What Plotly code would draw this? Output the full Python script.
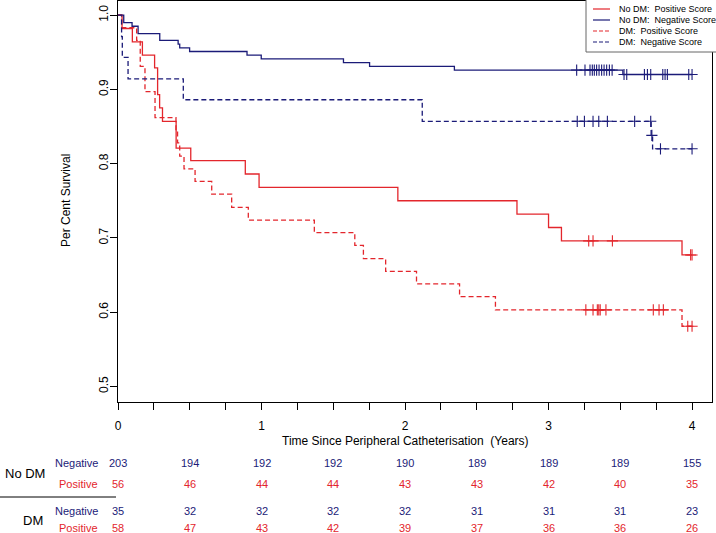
import numpy as np
import plotly.graph_objects as go

RED = "#e3262c"
BLUE = "#1b1b78"
FONT = "Liberation Sans, Arial, sans-serif"

# --- Kaplan-Meier steps (time in years, survival) ---
# No DM, negative score
nodm_neg_t = [0, 0.04, 0.098, 0.14, 0.291, 0.419, 0.43, 0.499, 0.899, 0.998, 1.571, 1.753, 2.344, 3.518]
nodm_neg_s = [1.0, 0.990, 0.985, 0.975, 0.966, 0.961, 0.956, 0.951, 0.946, 0.941, 0.936, 0.931, 0.926, 0.920]
nodm_neg_cens = [3.196, 3.254, 3.289, 3.305, 3.319, 3.335, 3.352, 3.370, 3.387, 3.405, 3.424, 3.443,
                 3.526, 3.545, 3.668, 3.689, 3.712, 3.796, 3.812, 3.828, 3.977, 4.0]

# No DM, positive score
nodm_pos_t = [0, 0.028, 0.10, 0.17, 0.255, 0.276, 0.29, 0.31, 0.405, 0.507, 0.887, 0.983, 1.95, 2.78, 3.00, 3.09, 3.93]
nodm_pos_s = [1.0, 0.982, 0.964, 0.946, 0.929, 0.893, 0.875, 0.857, 0.821, 0.804, 0.786, 0.768, 0.750, 0.732, 0.714, 0.696, 0.677]
nodm_pos_cens = [3.28, 3.31, 3.445, 3.99, 4.0]

# DM, negative score
dm_neg_t = [0, 0.025, 0.03, 0.07, 0.455, 2.12, 3.715, 3.725]
dm_neg_s = [1.0, 0.971, 0.943, 0.914, 0.886, 0.857, 0.838, 0.820]
dm_neg_cens = [3.20, 3.25, 3.31, 3.35, 3.41, 3.60, 3.712, 3.72, 3.78, 4.0]

# DM, positive score
dm_pos_t = [0, 0.025, 0.13, 0.155, 0.188, 0.258, 0.404, 0.415, 0.43, 0.46, 0.537, 0.653, 0.792, 0.908,
            1.368, 1.65, 1.71, 1.865, 2.08, 2.38, 2.63, 3.93]
dm_pos_s = [1.0, 0.983, 0.966, 0.931, 0.897, 0.862, 0.845, 0.828, 0.810, 0.793, 0.776, 0.759, 0.741, 0.724,
            0.707, 0.690, 0.672, 0.655, 0.638, 0.621, 0.603, 0.581]
dm_pos_cens = [3.26, 3.31, 3.34, 3.35, 3.36, 3.40, 3.73, 3.77, 3.80, 3.97, 4.0]

# --- numbers at risk ---
risk_times = [0, 0.5, 1, 1.5, 2, 2.5, 3, 3.5, 4]
nodm_neg_risk = [203, 194, 192, 192, 190, 189, 189, 189, 155]
nodm_pos_risk = [56, 46, 44, 44, 43, 43, 42, 40, 35]
dm_neg_risk = [35, 32, 32, 32, 32, 31, 31, 31, 23]
dm_pos_risk = [58, 47, 43, 42, 39, 37, 36, 36, 26]

x_ticks = [0, 1, 2, 3, 4]
y_ticks = [0.5, 0.6, 0.7, 0.8, 0.9, 1.0]

groups = [
    ("No DM:\u00a0 Positive Score", nodm_pos_t, nodm_pos_s, nodm_pos_cens, RED, "solid"),
    ("No DM:\u00a0 Negative Score", nodm_neg_t, nodm_neg_s, nodm_neg_cens, BLUE, "solid"),
    ("DM:\u00a0 Positive Score", dm_pos_t, dm_pos_s, dm_pos_cens, RED, "5px,3px"),
    ("DM:\u00a0 Negative Score", dm_neg_t, dm_neg_s, dm_neg_cens, BLUE, "5px,3px"),
]

# plot area in pixels (for placing the table / legend in paper coords)
W, H = 716, 533
L, R, T, B = 118, 4, 1, 131
PW, PH = W - L - R, H - T - B


def px(x):
    return (x - L) / PW


def py(y):
    return (H - B - y) / PH


fig = go.Figure()
for name, t, s, cens, col, dash in groups:
    end = max(max(cens), t[-1])
    fig.add_trace(go.Scatter(x=list(t) + [end], y=list(s) + [s[-1]], mode="lines",
                             line=dict(color=col, width=1.3, dash=dash, shape="hv"),
                             name=name, showlegend=False, hoverinfo="skip"))
    idx = np.searchsorted(np.array(t), np.array(cens), side="right") - 1
    fig.add_trace(go.Scatter(x=cens, y=np.array(s)[idx], mode="markers",
                             marker=dict(symbol="cross-thin", size=8, line=dict(color=col, width=1.1)),
                             showlegend=False, hoverinfo="skip"))

ann = []
# risk table
rows = [("Negative", nodm_neg_risk, BLUE, 463), ("Positive", nodm_pos_risk, RED, 484),
        ("Negative", dm_neg_risk, BLUE, 511), ("Positive", dm_pos_risk, RED, 528)]
for lab, vals, col, ypix in rows:
    ann.append(dict(x=px(100), y=py(ypix), xref="paper", yref="paper", text=lab, showarrow=False,
                    xanchor="right", yanchor="middle", font=dict(color=col, size=11)))
    for tt, v in zip(risk_times, vals):
        ann.append(dict(x=tt, y=py(ypix), xref="x", yref="paper", text=str(v), showarrow=False,
                        xanchor="center", yanchor="middle", font=dict(color=col, size=11)))
ann.append(dict(x=px(25), y=py(474), xref="paper", yref="paper", text="No DM", showarrow=False,
                xanchor="center", yanchor="middle", font=dict(size=13, color="black")))
ann.append(dict(x=px(33), y=py(520), xref="paper", yref="paper", text="DM", showarrow=False,
                xanchor="center", yanchor="middle", font=dict(size=13, color="black")))
# axis titles
ann.append(dict(x=px(405), y=py(441), xref="paper", yref="paper",
                text="Time Since Peripheral Catheterisation\u00a0 (Years)", showarrow=False,
                xanchor="center", yanchor="middle", font=dict(size=12, color="black")))
ann.append(dict(x=px(66), y=py(201), xref="paper", yref="paper", text="Per Cent Survival",
                showarrow=False, textangle=-90, xanchor="center", yanchor="middle",
                font=dict(size=12, color="black")))

shapes = [dict(type="line", xref="paper", yref="paper", x0=px(0), x1=px(116), y0=py(497), y1=py(497),
               line=dict(color="black", width=1))]

# hand-drawn legend box (R style, compact rows)
shapes.append(dict(type="rect", xref="paper", yref="paper", x0=px(586), x1=px(718), y0=py(52), y1=py(-2),
                   line=dict(color="#666666", width=1), fillcolor="white", layer="above"))
for i, (name, t, s, cens, col, dash) in enumerate(groups):
    yy = 9 + i * 11
    shapes.append(dict(type="line", xref="paper", yref="paper", x0=px(593), x1=px(610), y0=py(yy), y1=py(yy),
                       line=dict(color=col, width=1.2, dash="4px,2px" if dash != "solid" else "solid"),
                       layer="above"))
    ann.append(dict(x=px(617), y=py(yy), xref="paper", yref="paper", text=name, showarrow=False,
                    xanchor="left", yanchor="middle", font=dict(size=9, color="black")))

fig.update_layout(
    width=W, height=H, margin=dict(l=L, r=R, t=T, b=B),
    plot_bgcolor="white", paper_bgcolor="white",
    font=dict(family=FONT, size=12, color="black"),
    annotations=ann, shapes=shapes,
    xaxis=dict(range=[0, 4.139], tickvals=list(np.arange(0, 4.01, 0.25)),
               ticktext=[str(int(v)) if v in x_ticks else "" for v in np.arange(0, 4.01, 0.25)],
               ticks="outside", ticklen=7, tickcolor="black", showline=True, mirror=True,
               linecolor="black", linewidth=1, showgrid=False, zeroline=False,
               tickfont=dict(size=12), ticklabelstandoff=6),
    yaxis=dict(range=[0.479, 1.019], tickvals=y_ticks, ticktext=["%.1f" % v for v in y_ticks],
               ticks="outside", ticklen=7, tickcolor="black", showline=True, mirror=True,
               linecolor="black", linewidth=1, showgrid=False, zeroline=False,
               tickangle=-90, tickfont=dict(size=12), ticklabelstandoff=-3),
)

# the page body has a default 8px margin; drop it so the figure sits at the window corner
fig.write_html("out.html", config={"displayModeBar": False},
               post_script="document.body.style.margin='0';")
